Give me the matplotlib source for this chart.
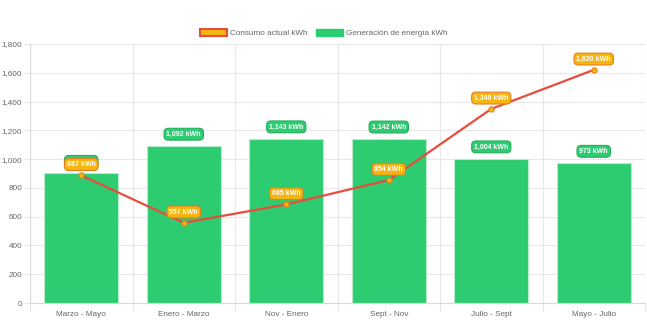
import matplotlib
matplotlib.use('Agg')
from matplotlib import pyplot as plt
from matplotlib.patches import Patch
from matplotlib.ticker import FuncFormatter, FixedLocator
import numpy as np

periods = ['Marzo - Mayo', 'Enero - Marzo', 'Nov - Enero', 'Sept - Nov', 'Julio - Sept', 'Mayo - Julio']
generation_kwh = [903, 1092, 1143, 1142, 1004, 973]
consumption_kwh = [887, 557, 685, 854, 1349, 1620]
y_ticks = [0, 200, 400, 600, 800, 1000, 1200, 1400, 1600, 1800]

GREEN = '#2ecc71'
RED = '#e74c3c'
YELLOW = '#f5b70f'
ORANGE = '#e67e22'
GRID = '#e8e8e8'
TEXT = '#666666'

plt.rcParams['font.family'] = ['Liberation Sans', 'DejaVu Sans']

fig = plt.figure(figsize=(6.47, 3.23), dpi=100)
ax = fig.add_axes([30 / 647, 20 / 323, 615 / 647, 259 / 323])

x = np.arange(len(periods))

# bars (generation)
ax.bar(x, generation_kwh, width=0.72, color=GREEN, edgecolor='#b8ebcc',
       linewidth=0.8, zorder=2)

# line (consumption)
ax.plot(x, consumption_kwh, color=RED, linewidth=1.6, zorder=3)
ax.scatter(x, consumption_kwh, s=14, color=YELLOW, edgecolor=ORANGE,
           linewidth=0.8, zorder=4)

# data labels
for xi, v in zip(x, generation_kwh):
    ax.annotate('{:,} kWh'.format(v), (xi, v), xytext=(0, 8.4),
                textcoords='offset points', ha='center', va='center',
                fontsize=5, fontweight='bold', color='white', zorder=5,
                bbox=dict(boxstyle='round,pad=0.35,rounding_size=0.6',
                          fc=GREEN, ec='#27ae60', lw=0.8))
for xi, v in zip(x, consumption_kwh):
    ax.annotate('{:,} kWh'.format(v), (xi, v), xytext=(0, 7.8),
                textcoords='offset points', ha='center', va='center',
                fontsize=5, fontweight='bold', color='white', zorder=6,
                bbox=dict(boxstyle='round,pad=0.35,rounding_size=0.6',
                          fc=YELLOW, ec=ORANGE, lw=0.8))

# axes
ax.set_xlim(-0.5, len(periods) - 0.5)
ax.set_ylim(0, 1800)
ax.set_yticks(y_ticks)
ax.yaxis.set_major_formatter(FuncFormatter(lambda v, p: '{:,}'.format(int(v))))
ax.set_xticks(x)
ax.set_xticklabels(periods)
ax.xaxis.set_minor_locator(FixedLocator(np.arange(-0.5, len(periods), 1.0)))

ax.tick_params(axis='x', which='major', length=0, pad=6, labelsize=5.9, labelcolor=TEXT)
ax.tick_params(axis='x', which='minor', length=6, color=GRID, width=0.8)
ax.tick_params(axis='y', length=4, color=GRID, width=0.8, pad=1.5, labelsize=5.9, labelcolor=TEXT)

ax.grid(True, axis='y', color=GRID, linewidth=0.8, zorder=0)
ax.grid(True, axis='x', which='minor', color=GRID, linewidth=0.8, zorder=0)
ax.set_axisbelow(True)
for side in ['top', 'right']:
    ax.spines[side].set_visible(False)
for side in ['left', 'bottom']:
    ax.spines[side].set_color('#d9d9d9')
    ax.spines[side].set_linewidth(0.8)

handles = [
    Patch(facecolor=YELLOW, edgecolor=RED, linewidth=1.5, label='Consumo actual kWh'),
    Patch(facecolor=GREEN, edgecolor=GREEN, label='Generación de energía kWh'),
]
fig.legend(handles=handles, loc='center', bbox_to_anchor=(0.5, 1 - 33 / 323),
           ncol=2, frameon=False, fontsize=5.9, labelcolor=TEXT,
           handlelength=3.3, handleheight=1.0, handletextpad=0.4, columnspacing=1.0)

fig.savefig('out.png', dpi=100)
